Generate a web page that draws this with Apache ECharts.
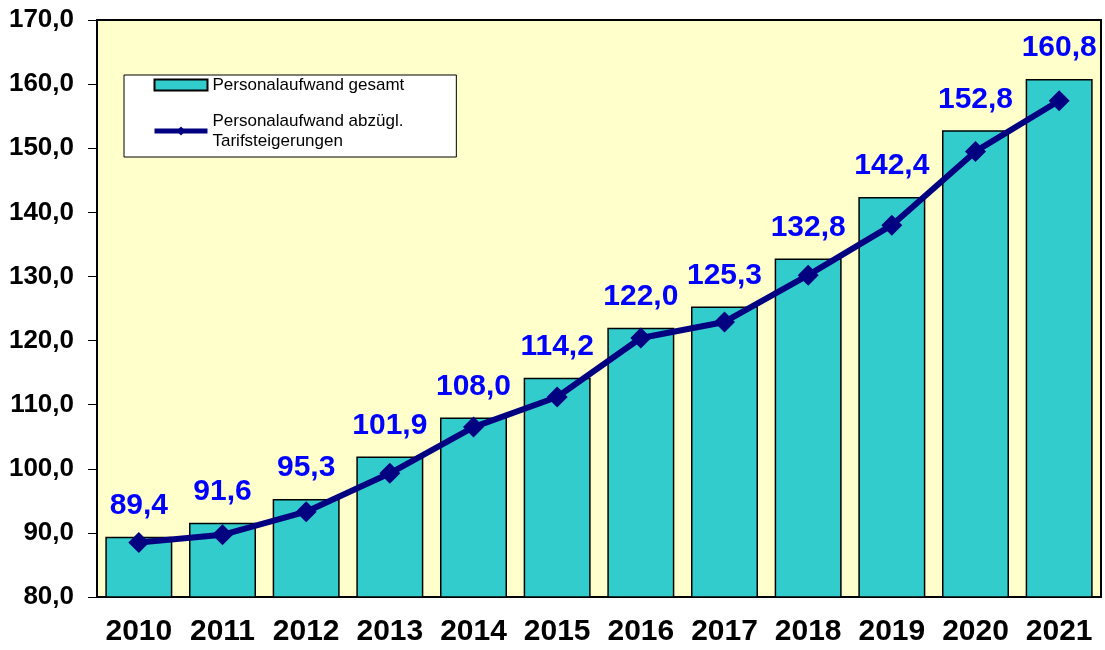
<!DOCTYPE html>
<html>
<head>
    <meta charset="utf-8">
    <title>Personalaufwand</title>
    <style>
        html, body { margin: 0; padding: 0; background: #fff; }
        #container { width: 1105px; height: 650px; }
    </style>
</head>
<body>
    <div id="container"></div>
    <script src="https://cdn.jsdelivr.net/npm/echarts@6/dist/echarts.min.js"></script>
    <script type="text/javascript">
        var years = ['2010', '2011', '2012', '2013', '2014', '2015', '2016', '2017', '2018', '2019', '2020', '2021'];
        // Personalaufwand gesamt (bars)
        var gesamt = [89.4, 91.6, 95.3, 101.9, 108.0, 114.2, 122.0, 125.3, 132.8, 142.4, 152.8, 160.8];
        // Personalaufwand abzügl. Tarifsteigerungen (line)
        var abzueglich = [88.5, 89.7, 93.3, 99.3, 106.5, 111.2, 120.4, 122.9, 130.2, 138.0, 149.5, 157.4];

        var nameBar = 'Personalaufwand gesamt';
        var nameLine = 'Personalaufwand abzügl.\nTarifsteigerungen';

        function komma(v) {
            return Number(v).toFixed(1).replace('.', ',');
        }

        var myChart = echarts.init(document.getElementById('container'));

        var option = {
            backgroundColor: '#ffffff',
            animation: false,
            textStyle: { fontFamily: 'Liberation Sans, Arial, sans-serif' },
            grid: {
                left: 97, right: 4, top: 20, bottom: 53,
                show: true,
                backgroundColor: '#FFFFCC',
                borderColor: '#000',
                borderWidth: 2
            },
            legend: {
                orient: 'vertical',
                left: 124,
                top: 75,
                backgroundColor: '#fff',
                borderColor: '#000',
                borderWidth: 1,
                padding: [0, 52, 6, 28],
                itemGap: 16,
                itemWidth: 53,
                itemHeight: 11,
                textStyle: { fontSize: 17, color: '#000', lineHeight: 20 },
                data: [
                    { name: nameBar, icon: 'rect' },
                    { name: nameLine, lineStyle: { width: 5 } }
                ]
            },
            xAxis: {
                type: 'category',
                data: years,
                axisLine: { lineStyle: { color: '#000', width: 2 } },
                axisTick: { length: 10, lineStyle: { color: '#000', width: 1 } },
                axisLabel: {
                    interval: 0,
                    margin: 20,
                    fontSize: 30,
                    fontWeight: 'bold',
                    color: '#000'
                }
            },
            yAxis: {
                type: 'value',
                min: 80,
                max: 170,
                interval: 10,
                axisLine: { show: true, lineStyle: { color: '#000', width: 2 } },
                axisTick: { show: true, length: 9, lineStyle: { color: '#000', width: 1 } },
                splitLine: { show: false },
                axisLabel: {
                    margin: 23,
                    fontSize: 26,
                    fontWeight: 'bold',
                    color: '#000',
                    formatter: komma
                }
            },
            series: [{
                name: nameBar,
                type: 'bar',
                data: gesamt,
                barWidth: 67,
                itemStyle: {
                    color: '#33CCCC',
                    borderColor: '#000',
                    borderWidth: 1.5
                },
                label: {
                    show: true,
                    position: 'top',
                    distance: 16,
                    fontSize: 30,
                    fontWeight: 'bold',
                    color: '#0000FF',
                    formatter: function (p) { return komma(p.value); }
                }
            }, {
                name: nameLine,
                type: 'line',
                data: abzueglich,
                symbol: 'diamond',
                symbolSize: 21,
                lineStyle: { color: '#000080', width: 6 },
                itemStyle: { color: '#000080' },
                z: 5
            }]
        };

        if (option && typeof option === 'object') {
            myChart.setOption(option, true);
        }
    </script>
</body>
</html>
